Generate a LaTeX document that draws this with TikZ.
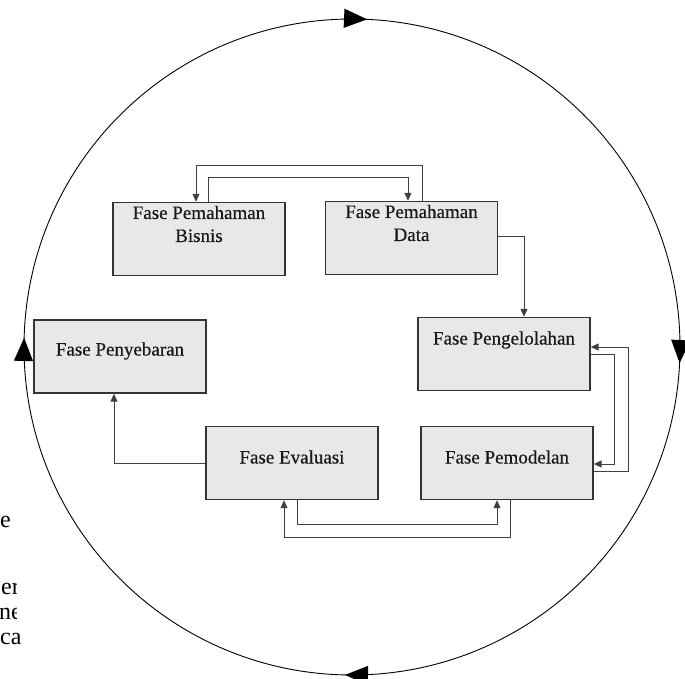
\documentclass[tikz,border=0pt]{standalone}
\usepackage{fontspec}
\setmainfont{Liberation Serif}
\newfontfamily\phasefont[BoldFont=Liberation Serif, BoldFeatures={FakeBold=0.5}]{Liberation Serif}
\usetikzlibrary{arrows.meta,decorations.markings}

\begin{document}
\begin{tikzpicture}[x=1pt, y=-1pt,
    phase/.style={draw=black!80, fill=black!9, line width=1.4pt, inner sep=0pt,
        minimum width=172pt, minimum height=73pt},
    phasetext/.style={align=center, inner sep=0pt, text=black!90,
        font=\phasefont\bfseries\fontsize{19}{23}\selectfont},
    flow/.style={draw=black!75, line width=1pt, -{Triangle[length=8pt,width=7pt]}},
    cycle/.style={line width=0.9pt, postaction={decorate}, decoration={markings,
        mark=at position 0.0078 with {\arrow{Triangle[length=23pt,width=19pt]}},
        mark=at position 0.2534 with {\arrow{Triangle[length=23pt,width=19pt]}},
        mark=at position 0.5044 with {\arrow{Triangle[length=23pt,width=19pt]}},
        mark=at position 0.7573 with {\arrow{Triangle[length=23pt,width=19pt]}}}},
    frag/.style={inner sep=0pt, font=\fontsize{24}{24}\selectfont}
]
\useasboundingbox (0,0) rectangle (685,679);

% text of the page behind, cut at the left edge
\node[frag, anchor=base west] (frag1) at (0,527) {e};
\begin{scope}
\clip (0,560) rectangle (16,625);
\node[frag, anchor=base east] (frag2) at (20,594) {er};
\node[frag, anchor=base east] (frag3) at (22,619) {ne};
\end{scope}
\node[frag, anchor=base west] (frag4) at (0,644) {ca};

% the cycle
\draw[cycle] (352,347) circle[radius=328];

% phases
\node[phase] (bisnis) at (199,239) {};
\node[phase] (data) at (411.5,238) {};
\node[phase] (olah) at (504,354) {};
\node[phase] (model) at (507,463) {};
\node[phase] (evaluasi) at (292,463) {};
\node[phase] (sebar) at (120,356.5) {};

\node[phasetext] (bisnis-t) at ([yshift=15pt]bisnis.center) {Fase Pemahaman\\Bisnis};
\node[phasetext] (data-t) at ([yshift=15pt]data.center) {Fase Pemahaman\\Data};
\node[phasetext] (olah-t) at ([yshift=14pt]olah.center) {Fase Pengelolahan};
\node[phasetext] (model-t) at ([yshift=6pt]model.center) {Fase Pemodelan};
\node[phasetext] (evaluasi-t) at ([yshift=6pt]evaluasi.center) {Fase Evaluasi};
\node[phasetext] (sebar-t) at ([yshift=5.5pt]sebar.center) {Fase Penyebaran};

% connectors
\draw[flow] ([xshift=9pt]bisnis.north) -- ++(0,-24) -| ([xshift=-3.5pt]data.north);
\draw[flow] ([xshift=10.5pt]data.north) -- ++(0,-35) -| ([xshift=-3pt]bisnis.north);
\draw[flow] ([yshift=2pt]data.east) -| ([xshift=20pt]olah.north);
\draw[flow] (olah.east) -- ++(24,0) |- ([yshift=-1pt]model.east);
\draw[flow] ([yshift=-8pt]model.east) -- ++(35,0) |- ([yshift=7pt]olah.east);
\draw[flow] ([xshift=5pt]evaluasi.south) -- ++(0,24) -| ([xshift=-10pt]model.south);
\draw[flow] ([xshift=3pt]model.south) -- ++(0,37) -| ([xshift=-8pt]evaluasi.south);
\draw[flow] (evaluasi.west) -| ([xshift=-6pt]sebar.south);

\end{tikzpicture}
\end{document}
